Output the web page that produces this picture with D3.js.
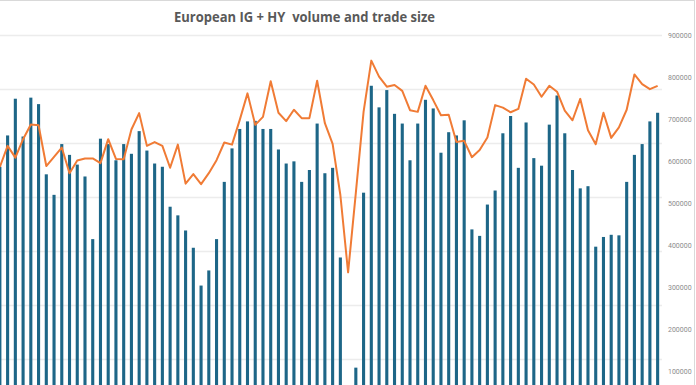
<!DOCTYPE html>
<html>
<head>
<meta charset="utf-8">
<script src="https://cdn.jsdelivr.net/npm/d3@7"></script>
<style>
  body { margin: 0; background: #fff; }
  svg { display: block; }
</style>
</head>
<body>
<script>
// weekly volume (bars, hidden left axis) and average trade size (line, right axis)
const weeks = d3.range(86).map(i => 'W' + (i + 1));
const volume = [
  22800, 25700, 29100, 25600, 29200, 28600, 22100, 20200, 24900, 23900,
  23000, 21900, 16100, 25400, 24900, 23400, 24900, 24000, 26100, 24300,
  23100, 22800, 19100, 18300, 16900, 15300, 11800, 13200, 16100, 21400,
  24500, 26300, 27000, 27050, 26300, 26300, 24400, 23100, 23300, 21400,
  22500, 26800, 22200, 22700, 14400, 1200, 4200, 20400, 30300, 28300,
  29900, 27700, 26800, 23400, 26800, 29000, 28200, 24100, 26000, 25700,
  27100, 17000, 16400, 19300, 20600, 25900, 27500, 22700, 26900, 23600,
  22900, 26700, 29400, 25900, 22500, 20800, 21000, 15400, 16300, 16500,
  16450, 21400, 23900, 24900, 27000, 27800
];
const tradeSize = [
  586000, 636000, 608000, 652000, 687000, 685000, 588000, 610000, 632000, 571000,
  601000, 606000, 606000, 595000, 652000, 605000, 604000, 675000, 714000, 636000,
  645000, 636000, 584000, 639000, 546000, 569000, 545000, 571000, 602000, 644000,
  639000, 698000, 761000, 686000, 705000, 790000, 715000, 695000, 722000, 702000,
  702000, 791000, 690000, 641000, 519000, 335000, 524000, 717000, 839000, 801000,
  777000, 781000, 767000, 721000, 717000, 779000, 745000, 709000, 710000, 645000,
  648000, 609000, 626000, 656000, 733000, 727000, 716000, 724000, 796000, 782000,
  753000, 779000, 765000, 720000, 697000, 748000, 673000, 640000, 715000, 655000,
  680000, 722000, 806000, 783000, 771000, 779000
];
const volumeTicks = d3.range(0, 35001, 5000);
const sizeTicks = d3.range(100000, 900001, 100000);

const width = 696;
const height = 385;

const svg = d3.select('body')
  .append('svg')
  .attr('width', width)
  .attr('height', height);

// chart frame (left and bottom are cut off)
svg.append('rect')
  .attr('x', -10)
  .attr('y', 0.5)
  .attr('width', 704.5)
  .attr('height', 420)
  .attr('fill', '#fff')
  .attr('stroke', '#d9d9d9')
  .attr('stroke-width', 1);

const x = d3.scaleBand()
  .domain(weeks)
  .range([-4, 661.5])
  .paddingInner(0.6)
  .paddingOuter(0.3);

const yVol = d3.scaleLinear()
  .domain([0, 35000])
  .range([413, 35]);

const ySize = d3.scaleLinear()
  .domain([0, 900000])
  .range([413, 35]);

// gridlines follow the primary (volume) axis
svg.append('g')
  .selectAll('line')
  .data(volumeTicks)
  .enter()
  .append('line')
  .attr('x1', -4)
  .attr('x2', 662)
  .attr('y1', d => Math.round(yVol(d)) + 0.5)
  .attr('y2', d => Math.round(yVol(d)) + 0.5)
  .attr('stroke', '#ececec')
  .attr('stroke-width', 1.3);

svg.append('g')
  .selectAll('rect')
  .data(volume)
  .enter()
  .append('rect')
  .attr('x', (d, i) => x(weeks[i]))
  .attr('width', x.bandwidth())
  .attr('y', d => yVol(d))
  .attr('height', d => yVol(0) - yVol(d))
  .attr('fill', '#1d6687');

const line = d3.line()
  .x((d, i) => x(weeks[i]) + x.bandwidth() / 2)
  .y(d => ySize(d));

svg.append('path')
  .datum(tradeSize)
  .attr('d', line)
  .attr('fill', 'none')
  .attr('stroke', '#f07b35')
  .attr('stroke-width', 2)
  .attr('stroke-linejoin', 'round');

// right axis
const axis = svg.append('g')
  .attr('transform', 'translate(668,0)')
  .attr('color', '#8c8c8c')
  .call(d3.axisRight(ySize).tickValues(sizeTicks).tickSize(0).tickPadding(0).tickFormat(d3.format('d')));
axis.select('.domain').remove();
axis.selectAll('text')
  .attr('fill', '#8c8c8c')
  .style('font-family', 'Roboto, "Open Sans", sans-serif')
  .style('font-size', '7px');

svg.append('text')
  .attr('x', 174)
  .attr('y', 22)
  .attr('textLength', 261)
  .attr('lengthAdjust', 'spacingAndGlyphs')
  .attr('fill', '#595959')
  .style('font-family', '"Open Sans", sans-serif')
  .style('font-weight', 700)
  .style('font-size', '15px')
  .style('white-space', 'pre')
  .text('European IG + HY  volume and trade size');
</script>
</body>
</html>
